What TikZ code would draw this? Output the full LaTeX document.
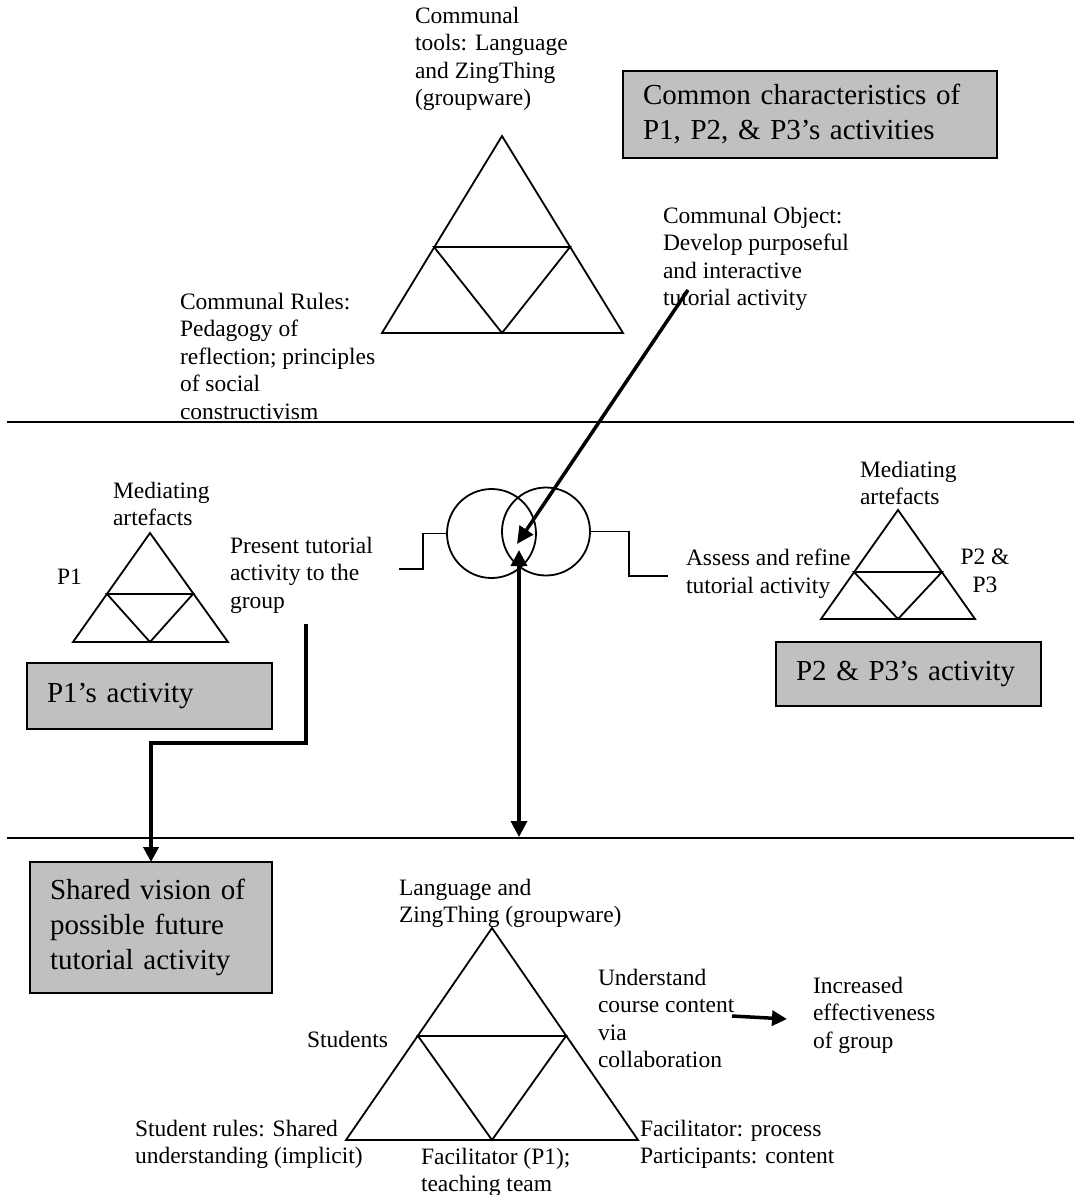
\documentclass[tikz,border=0pt]{standalone}
\usepackage{fontspec}
\setmainfont{Liberation Serif}
\usetikzlibrary{arrows.meta}
\definecolor{boxgray}{RGB}{192,192,192}
\tikzset{
  lbl/.style={inner sep=0pt, outer sep=0pt, align=left, anchor=north west, font=\fontsize{23.5}{27.5}\selectfont},
  clbl/.style={lbl, align=center, anchor=north},
  gbox/.style={draw, line width=2pt, fill=boxgray, inner xsep=20pt, inner ysep=0pt, outer sep=0pt, align=left, anchor=north west, font=\fontsize{29}{35}\selectfont},
  tri/.style={line width=1.8pt, line join=miter},
  hline/.style={line width=2pt},
  bigarrow/.style={line width=3.5pt, -{Triangle[length=17pt,width=16pt]}},
  ring/.style={draw, circle, line width=1.8pt, minimum size=89pt, inner sep=0pt},
  stepline/.style={line width=1.8pt},
}
\begin{document}
\begin{tikzpicture}[x=1pt,y=-1pt]
\useasboundingbox (0,0) rectangle (1074,1195);

% separators
\coordinate (h1a) at (7,422); \coordinate (h1b) at (1074,422);
\coordinate (h2a) at (7,838); \coordinate (h2b) at (1074,838);
\draw[hline] (h1a) -- (h1b);
\draw[hline] (h2a) -- (h2b);

% ---------- top section ----------
\draw[tri] (502,136) -- (382,333) -- (623,333) -- cycle;
\draw[tri] (434,247) -- (570,247) -- (502,333) -- cycle;
\node[lbl] (tools) at (415,7) {Communal\\tools: Language\\and ZingThing\\(groupware)};
\node[lbl] (object) at (663,207) {Communal Object:\\Develop purposeful\\and interactive\\tutorial activity};
\node[lbl] (rules) at (180,293) {Communal Rules:\\Pedagogy of\\reflection; principles\\of social\\constructivism};
\node[gbox, text width=334pt, minimum height=87pt] (common) at (623,71) {Common characteristics of\\P1, P2, \& P3's activities};

% ---------- middle section ----------
\draw[tri] (150,533) -- (73,642) -- (228,642) -- cycle;
\draw[tri] (107,594) -- (193,594) -- (150,642) -- cycle;
\node[lbl] (medl) at (113,482) {Mediating\\artefacts};
\node[lbl] (p1) at (57,569) {P1};
\node[lbl] (present) at (230,537) {Present tutorial\\activity to the\\group};
\node[gbox, text width=205pt, minimum height=66pt] (p1box) at (27,663) {P1's activity};

\draw[tri] (898,510) -- (821,619) -- (975,619) -- cycle;
\draw[tri] (854,572) -- (942,572) -- (898,619) -- cycle;
\node[lbl] (medr) at (860,461) {Mediating\\artefacts};
\node[lbl] (assess) at (686,549) {Assess and refine\\tutorial activity};
\node[clbl] (p23) at (985,549) {P2 \&\\P3};
\node[gbox, text width=225pt, minimum height=64pt] (p23box) at (776,642) {P2 \& P3's activity};

% circles and step lines
\node[ring] (c1) at (491.5,533.5) {};
\node[ring, minimum size=88pt] (c2) at (546,531.5) {};
\coordinate (sl0) at (399,569); \coordinate (sl1) at (423,569); \coordinate (sl2) at (423,533.5);
\draw[stepline] (sl0) -- (sl1) -- (sl2) -- (c1.west);
\coordinate (sr1) at (629,531.5); \coordinate (sr2) at (629,576); \coordinate (sr3) at (668,576);
\draw[stepline] (c2.east) -- (sr1) -- (sr2) -- (sr3);

% arrows
\coordinate (objstart) at (688,290);
\coordinate (meet) at (517,544);
\draw[bigarrow] (objstart) -- (meet);
\coordinate (vtop) at (519,550);
\coordinate (vbot) at (519,837);
\draw[line width=3.5pt, {Triangle[length=16pt,width=16pt]}-{Triangle[length=16pt,width=16pt]}] (vtop) -- (vbot);
\coordinate (p1out) at (306,624);
\node[gbox, text width=202pt, minimum height=131pt] (shared) at (30,862) {Shared vision of\\possible future\\tutorial activity};
\draw[bigarrow, -{Triangle[length=15pt,width=15pt]}] (p1out) -- ++(0,119) -| (shared.north);

% ---------- bottom section ----------
\draw[tri] (492,928) -- (346,1140) -- (638,1140) -- cycle;
\draw[tri] (418,1036) -- (566,1036) -- (492,1140) -- cycle;
\node[lbl] (lang) at (399,879) {Language and\\ZingThing (groupware)};
\node[lbl] (students) at (307,1031) {Students};
\node[lbl] (underst) at (598,969) {Understand\\course content\\via\\collaboration};
\node[lbl] (incr) at (813,977) {Increased\\effectiveness\\of group};
\node[lbl] (srules) at (135,1120) {Student rules: Shared\\understanding (implicit)};
\node[lbl] (facil) at (421,1148) {Facilitator (P1);\\teaching team};
\node[lbl] (facproc) at (640,1120) {Facilitator: process\\Participants: content};
\coordinate (ea) at (732,1016);
\coordinate (eb) at (787,1019);
\draw[line width=3.5pt, -{Triangle[length=15pt,width=15pt]}] (ea) -- (eb);
\end{tikzpicture}
\end{document}
